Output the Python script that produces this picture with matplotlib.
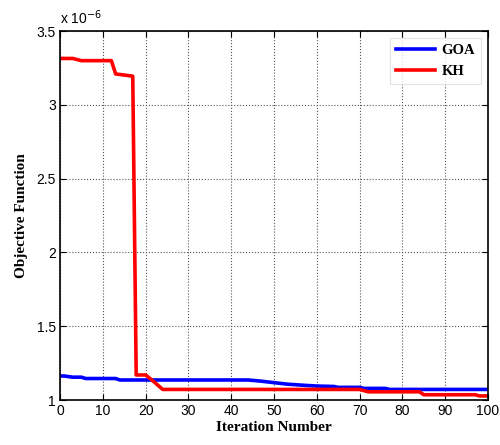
import numpy as np
import matplotlib.pyplot as plt

# values in units of 1e-6
goa_it = [0, 1, 3, 5, 6, 13, 14, 44, 47, 50, 53, 57, 60, 64, 65, 70, 71, 76, 77, 100]
goa_val = [1.163, 1.163, 1.155, 1.155, 1.146, 1.146, 1.136, 1.136, 1.128, 1.118,
           1.108, 1.100, 1.095, 1.092, 1.086, 1.086, 1.079, 1.079, 1.072, 1.072]

kh_it = [0, 3, 5, 12, 13, 17.0, 17.8, 20, 21.5, 22.5, 24, 70, 72, 84, 85, 97, 98, 100]
kh_val = [3.315, 3.315, 3.30, 3.30, 3.21, 3.195, 1.17, 1.17, 1.135, 1.11, 1.072,
          1.072, 1.056, 1.056, 1.036, 1.036, 1.028, 1.028]

xticks = [0, 10, 20, 30, 40, 50, 60, 70, 80, 90, 100]
yticks = [1, 1.5, 2, 2.5, 3, 3.5]
ylabels = ['1', '1.5', '2', '2.5', '3', '3.5']

tick_font = 'Liberation Sans'
lab_font = 'Liberation Serif'

fig = plt.figure(figsize=(5, 4.45), dpi=100)
ax = fig.add_axes([0.12, 0.101, 0.856, 0.829])

ax.plot(goa_it, goa_val, color='#0000ff', lw=2.6, label='GOA')
ax.plot(kh_it, kh_val, color='#ff0000', lw=2.6, label='KH')

ax.set_xlim(0, 100)
ax.set_ylim(1, 3.5)
ax.set_xticks(xticks)
ax.set_yticks(yticks)
ax.set_yticklabels(ylabels)
ax.grid(True, color='#555555', linestyle=':', linewidth=0.8)
ax.tick_params(direction='in', top=True, right=True, length=4, width=0.8,
               labelsize=10, pad=3)
for lbl in ax.get_xticklabels() + ax.get_yticklabels():
    lbl.set_fontfamily(tick_font)
for s in ax.spines.values():
    s.set_linewidth(1.2)

ax.set_xlabel('Iteration Number', fontfamily=lab_font, fontweight='bold',
              fontsize=11, labelpad=2)
ax.set_ylabel('Objective Function', fontfamily=lab_font, fontweight='bold',
              fontsize=11, labelpad=6)

ax.text(0.0, 1.012, r'x 10$^{-6}$', transform=ax.transAxes, fontsize=10,
        fontfamily=tick_font, ha='left', va='bottom')

leg = ax.legend(loc='upper right', prop={'family': lab_font, 'weight': 'bold', 'size': 10.5},
                frameon=True, fancybox=False, edgecolor='#dddddd',
                handlelength=2.7, handletextpad=0.4, borderaxespad=0.5)
leg.get_frame().set_linewidth(0.8)

fig.savefig('out.png', dpi=100)
